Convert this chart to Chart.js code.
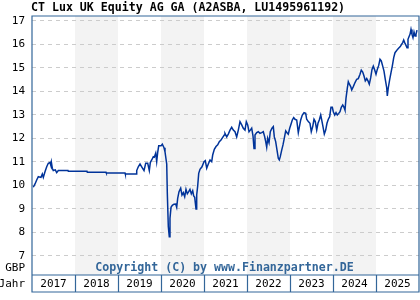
<!DOCTYPE html>
<html>
<head>
<meta charset="utf-8">
<script src="https://cdn.jsdelivr.net/npm/chart.js@4/dist/chart.umd.min.js"></script>
<style>
html,body{margin:0;padding:0;background:#fff;}
#wrap{width:420px;height:300px;position:relative;}
</style>
</head>
<body>
<div id="wrap"><canvas id="c" width="420" height="300"></canvas></div>
<script>
const TITLE = "CT Lux UK Equity AG GA (A2ASBA, LU1495961192)";
const COPYRIGHT = "Copyright (C) by www.Finanzpartner.DE";
const CURRENCY = "GBP";
const X_AXIS_NAME = "Jahr";
const YEARS = [2017, 2018, 2019, 2020, 2021, 2022, 2023, 2024, 2025];
const SHADED_YEARS = [2018, 2020, 2022, 2024];
const Y_TICKS = [7, 8, 9, 10, 11, 12, 13, 14, 15, 16, 17];

// time in decimal years
const dates = [
2017.030,2017.070,2017.109,2017.147,2017.209,2017.240,2017.263,2017.302,2017.342,2017.379,
2017.419,2017.435,2017.449,2017.472,2017.495,2017.542,2017.574,2017.612,2017.837,2017.844,
2018.279,2018.286,2018.721,2018.728,2019.163,2019.170,2019.419,2019.435,2019.472,2019.512,
2019.551,2019.605,2019.644,2019.691,2019.728,2019.751,2019.784,2019.821,2019.844,2019.877,
2019.900,2019.923,2019.947,2020.000,2020.030,2020.070,2020.093,2020.133,2020.147,2020.170,
2020.193,2020.209,2020.233,2020.263,2020.302,2020.342,2020.365,2020.388,2020.419,2020.458,
2020.488,2020.519,2020.551,2020.581,2020.612,2020.644,2020.674,2020.705,2020.737,2020.760,
2020.784,2020.814,2020.830,2020.853,2020.877,2020.907,2020.953,2021.000,2021.030,2021.063,
2021.100,2021.140,2021.179,2021.202,2021.240,2021.279,2021.319,2021.356,2021.395,2021.435,
2021.472,2021.488,2021.528,2021.565,2021.605,2021.644,2021.681,2021.721,2021.760,2021.798,
2021.837,2021.877,2021.914,2021.953,2021.984,2022.016,2022.047,2022.077,2022.109,2022.140,
2022.163,2022.186,2022.226,2022.263,2022.302,2022.342,2022.379,2022.412,2022.435,2022.458,
2022.481,2022.512,2022.542,2022.581,2022.612,2022.635,2022.667,2022.698,2022.728,2022.751,
2022.774,2022.807,2022.837,2022.867,2022.900,2022.930,2022.960,2022.993,2023.023,2023.053,
2023.086,2023.116,2023.156,2023.193,2023.216,2023.249,2023.286,2023.326,2023.365,2023.388,
2023.426,2023.465,2023.495,2023.528,2023.558,2023.588,2023.621,2023.651,2023.681,2023.714,
2023.737,2023.767,2023.798,2023.830,2023.860,2023.891,2023.923,2023.953,2023.984,2024.007,
2024.040,2024.070,2024.100,2024.133,2024.163,2024.193,2024.226,2024.256,2024.279,2024.302,
2024.333,2024.356,2024.379,2024.412,2024.435,2024.472,2024.512,2024.551,2024.588,2024.628,
2024.658,2024.691,2024.721,2024.751,2024.784,2024.814,2024.844,2024.877,2024.907,2024.937,
2024.970,2025.000,2025.030,2025.063,2025.093,2025.123,2025.156,2025.186,2025.216,2025.249,
2025.263,2025.286,2025.319,2025.349,2025.379,2025.412,2025.442,2025.472,2025.505,2025.535,
2025.565,2025.598,2025.621,2025.644,2025.667,2025.698,2025.721,2025.744,2025.767,2025.791,
2025.814,2025.837,2025.860,2025.884,2025.907,2025.930,2025.953
];
// price in GBP
const prices = [
9.92,10.06,10.23,10.37,10.34,10.48,10.34,10.58,10.79,10.94,
10.97,10.87,11.00,10.73,10.63,10.66,10.54,10.63,10.63,10.60,
10.60,10.56,10.56,10.53,10.53,10.48,10.48,10.63,10.79,10.91,
10.79,10.63,10.94,10.94,10.63,10.97,11.08,11.22,11.20,11.37,
11.01,11.40,11.68,11.68,11.75,11.60,11.43,10.91,9.66,8.25,
7.82,8.60,9.07,9.15,9.20,9.21,9.07,9.45,9.73,9.88,
9.59,9.69,9.52,9.83,9.64,9.73,9.83,9.64,9.77,9.55,
9.49,9.00,9.59,9.97,10.51,10.68,10.79,11.01,11.05,10.73,
10.91,11.08,11.01,11.29,11.53,11.65,11.72,11.86,11.93,12.04,
12.14,12.21,12.06,12.18,12.35,12.47,12.35,12.28,12.06,12.35,
12.71,12.57,12.43,12.35,12.71,12.57,12.28,12.35,12.43,12.09,
11.57,12.14,12.24,12.28,12.21,12.24,12.28,12.06,11.86,11.62,
12.00,11.81,12.28,12.43,12.50,12.06,11.86,11.50,11.15,11.08,
11.22,11.50,11.72,12.00,12.32,12.24,12.18,12.43,12.60,12.78,
12.88,12.81,12.78,12.24,12.47,12.78,12.99,13.09,13.06,12.81,
12.71,12.64,12.28,12.50,12.81,12.71,12.35,12.64,12.78,12.99,
12.78,12.50,12.18,12.35,12.64,12.81,12.92,13.32,13.32,13.13,
12.99,13.09,12.99,13.06,13.13,13.32,13.42,13.32,13.20,13.70,
14.13,14.41,14.31,14.20,14.06,14.20,14.37,14.51,14.54,14.72,
14.90,14.82,14.65,14.44,14.54,14.44,14.30,14.58,14.93,15.07,
14.90,14.72,14.93,15.10,15.36,15.29,15.07,14.86,14.51,14.15,
13.80,14.15,14.51,14.79,15.07,15.43,15.64,15.71,15.79,15.85,
15.90,16.00,16.07,16.18,16.07,15.95,15.85,16.21,16.32,16.42,
16.63,16.42,16.28,16.52,16.35,16.42,16.60
];

const X_MIN = 2017, X_MAX = 2026, Y_MIN = 6.19, Y_MAX = 17.2;
const BORDER = '#336699';
const MONO = '"DejaVu Sans Mono", "Liberation Mono", monospace';

const points = dates.map((d, i) => ({x: d, y: prices[i]}));

const framePlugin = {
  id: 'frame',
  beforeDraw(chart) {
    const {ctx, chartArea: a, scales: {x}} = chart;
    ctx.save();
    ctx.fillStyle = '#fff';
    ctx.fillRect(0, 0, chart.width, chart.height);
    ctx.fillStyle = '#f3f3f3';
    SHADED_YEARS.forEach(yr => {
      const l = x.getPixelForValue(yr), r = x.getPixelForValue(yr + 1);
      ctx.fillRect(l, a.top, r - l, a.bottom - a.top);
    });
    ctx.restore();
  },
  afterDatasetsDraw(chart) {
    const {ctx, chartArea: a, scales: {x}} = chart;
    ctx.save();
    // copyright
    ctx.fillStyle = '#336699';
    ctx.font = 'bold 11.6px ' + MONO;
    ctx.textAlign = 'center';
    ctx.textBaseline = 'middle';
    ctx.fillText(COPYRIGHT, (a.left + a.right) / 2 - 1, a.bottom - 7);
    // title
    ctx.fillStyle = '#000';
    ctx.font = 'bold 11.6px ' + MONO;
    ctx.textAlign = 'left';
    ctx.fillText(TITLE, 31, 8);
    // labels
    ctx.font = '11px ' + MONO;
    ctx.textAlign = 'right';
    ctx.fillText(CURRENCY, a.left - 7, a.bottom - 7);
    ctx.fillText(X_AXIS_NAME, a.left - 7, a.bottom + 9.5);
    // frame
    const boxBottom = a.bottom + 17;
    ctx.strokeStyle = BORDER;
    ctx.lineWidth = 1.2;
    ctx.beginPath();
    ctx.moveTo(a.left, a.top); ctx.lineTo(a.right, a.top);
    ctx.lineTo(a.right, boxBottom); ctx.lineTo(a.left, boxBottom);
    ctx.closePath();
    ctx.moveTo(a.left, a.bottom); ctx.lineTo(a.right, a.bottom);
    YEARS.slice(1).forEach(yr => {
      const px = Math.round(x.getPixelForValue(yr)) + 0.5;
      ctx.moveTo(px, a.bottom); ctx.lineTo(px, boxBottom);
    });
    ctx.stroke();
    ctx.restore();
  }
};

new Chart(document.getElementById('c'), {
  type: 'line',
  data: {
    datasets: [{
      data: points,
      borderColor: '#003399',
      borderWidth: 1.5,
      pointRadius: 0,
      tension: 0,
      fill: false
    }]
  },
  options: {
    responsive: false,
    animation: false,
    events: [],
    layout: {padding: {top: 16, right: 1, left: 0, bottom: 0}},
    plugins: {legend: {display: false}, title: {display: false}, tooltip: {enabled: false}},
    scales: {
      x: {
        type: 'linear', min: X_MIN, max: X_MAX,
        afterBuildTicks(s) { s.ticks = YEARS.map(y => ({value: y + 0.5})); },
        afterFit(s) { s.height = 25; },
        ticks: {
          autoSkip: false, maxRotation: 0, padding: 3,
          color: '#000', font: {family: MONO, size: 11},
          callback: v => String(Math.floor(v))
        },
        grid: {display: false, drawTicks: false},
        border: {display: false}
      },
      y: {
        min: Y_MIN, max: Y_MAX,
        afterBuildTicks(s) { s.ticks = Y_TICKS.map(v => ({value: v})); },
        afterFit(s) { s.width = 32; },
        ticks: {
          padding: 7, color: '#000', font: {family: MONO, size: 11},
          callback: v => String(v)
        },
        grid: {color: '#cccccc', lineWidth: 1, drawTicks: false},
        border: {display: false, dash: [4, 4]}
      }
    }
  },
  plugins: [framePlugin]
});
</script>
</body>
</html>
